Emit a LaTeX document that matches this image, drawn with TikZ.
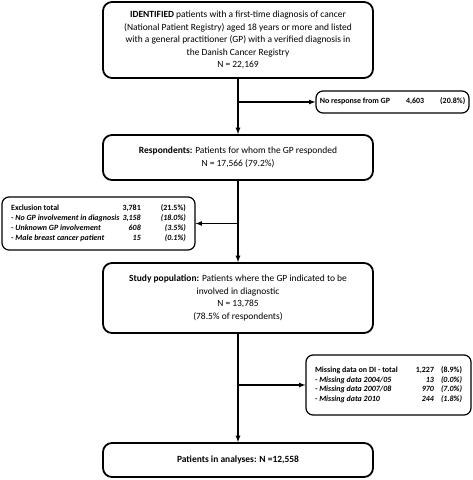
\documentclass[tikz,border=0pt]{standalone}
\usepackage{fontspec}
\setmainfont{Carlito}
\usetikzlibrary{arrows,positioning}

\begin{document}
\begin{tikzpicture}[x=1bp,y=-1bp]
% STYLES
\tikzset{
    mainbox/.style={rectangle, draw, rounded corners=9bp, line width=1.8bp,
    align=center, minimum width=270bp, inner sep=2pt,
    font=\fontsize{9.5}{12.6}\selectfont},
    sidebox/.style={rectangle, draw, rounded corners=7bp, line width=1.2bp,
    inner sep=2pt, font=\fontsize{8}{10}\selectfont\bfseries},
    flow/.style={->, >=latex, line width=1.2bp}
}
\useasboundingbox (0,0) rectangle (473,480);

% main column
\node [mainbox, minimum height=76bp] (ident) at (238,40)
  {\textbf{IDENTIFIED} patients with a first-time diagnosis of cancer\\
   (National Patient Registry) aged 18 years or more and listed\\
   with a general practitioner (GP) with a verified diagnosis in\\
   the Danish Cancer Registry\\
   N = 22,169};
\node [mainbox, minimum height=45bp] (resp) at (238,157.5)
  {\textbf{Respondents:} Patients for whom the GP responded\\
   N = 17,566 (79.2\%)};
\node [mainbox, minimum height=70bp] (study) at (238,298)
  {\textbf{Study population:} Patients where the GP indicated to be\\
   involved in diagnostic\\
   N = 13,785\\
   (78.5\% of respondents)};
\node [mainbox, minimum height=34bp] (final) at (238,460)
  {\textbf{Patients in analyses: N =12,558}};

% side boxes
\node [sidebox, minimum width=153bp, minimum height=22bp] (noresp) at (392.5,102)
  {\begin{tabular}{@{}l@{\hspace{16bp}}r@{\hspace{16bp}}r@{}}
   No response from GP & 4,603 & (20.8\%)
   \end{tabular}};
\node [sidebox, minimum width=193bp, minimum height=53bp] (excl) at (98.5,223.5)
  {\begin{tabular}{@{}l@{\hspace{3bp}}r@{\hspace{20bp}}r@{}}
   Exclusion total & 3,781 & (21.5\%)\\
   \textit{- No GP involvement in diagnosis} & \textit{3,158} & \textit{(18.0\%)}\\
   \textit{- Unknown GP involvement} & \textit{608} & \textit{(3.5\%)}\\
   \textit{- Male breast cancer patient} & \textit{15} & \textit{(0.1\%)}
   \end{tabular}};
\node [sidebox, minimum width=165bp, minimum height=60bp] (missing) at (388.5,385)
  {\begin{tabular}{@{}l@{\hspace{18bp}}r@{\hspace{7bp}}r@{}}
   Missing data on DI - total & 1,227 & (8.9\%)\\
   \textit{- Missing data 2004/05} & \textit{13} & \textit{(0.0\%)}\\
   \textit{- Missing data 2007/08} & \textit{970} & \textit{(7.0\%)}\\
   \textit{- Missing data 2010} & \textit{244} & \textit{(1.8\%)}
   \end{tabular}};

% Draw the links
\coordinate (split1) at (ident.south |- noresp.west);
\coordinate (split2) at (resp.south |- excl.east);
\coordinate (split3) at (study.south |- missing.west);
\draw[flow] (ident) -- (resp);
\draw[flow] (resp) -- (study);
\draw[flow] (study) -- (final);
\draw[flow] (split1) -- (noresp);
\draw[flow] (split2) -- (excl);
\draw[flow] (split3) -- (missing);
\end{tikzpicture}
\end{document}
